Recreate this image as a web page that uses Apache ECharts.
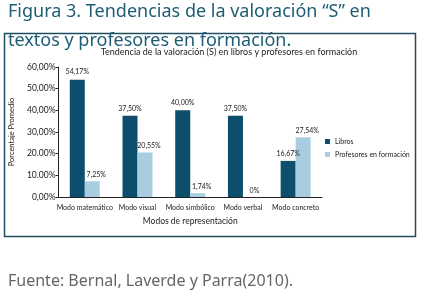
<!DOCTYPE html>
<html>
<head>
<meta charset="utf-8">
<script src="https://cdn.jsdelivr.net/npm/echarts@6/dist/echarts.min.js"></script>
<style>
  html, body { margin: 0; padding: 0; background: #fff; }
  #chart { width: 424px; height: 299px; }
</style>
</head>
<body>
<div id="chart"></div>
<script>
  // datos
  var categorias = ['Modo matemático', 'Modo visual', 'Modo simbólico', 'Modo verbal', 'Modo concreto'];
  var libros = [54.17, 37.50, 40.00, 37.50, 16.67];
  var profesores = [7.25, 20.55, 1.74, 0, 27.54];
  var etiquetasLibros = ['54,17%', '37,50%', '40,00%', '37,50%', '16,67%'];
  var etiquetasProf = ['7,25%', '20,55%', '1,74%', '0%', '27,54%'];
  var ticksY = ['0,00%', '10.00%', '20.00%', '30,00%', '40,00%', '50,00%', '60,00%'];

  var font = 'Lato';
  var fontTitulo = 'Noto Sans';
  var colorOscuro = '#0d4e6d';
  var colorClaro = '#a8cde0';

  var myChart = echarts.init(document.getElementById('chart'));

  myChart.setOption({
    animation: false,
    textStyle: { fontFamily: font },
    title: [{
      text: 'Figura 3. Tendencias de la valoración “S” en\ntextos y profesores en formación.',
      left: 3,
      top: -8,
      textStyle: {
        fontFamily: fontTitulo,
        fontSize: 18,
        fontWeight: 'normal',
        color: '#1e5d74',
        lineHeight: 29
      }
    }, {
      text: 'Tendencia de la valoración (S) en libros y profesores en formación',
      left: 224,
      textAlign: 'center',
      top: 43,
      textStyle: { fontFamily: font, fontSize: 9, fontWeight: 'normal', color: '#222' }
    }, {
      text: 'Fuente: Bernal, Laverde y Parra(2010).',
      left: 3,
      top: 268,
      textStyle: { fontFamily: fontTitulo, fontSize: 16, fontWeight: 'normal', color: '#666' }
    }],
    graphic: [{
      type: 'rect',
      z: -1,
      shape: { x: 4.5, y: 33.5, width: 411, height: 203 },
      style: { fill: 'none', stroke: '#1d4d5e', lineWidth: 1.5 }
    }],
    legend: {
      orient: 'vertical',
      left: 320,
      top: 133,
      itemWidth: 5,
      itemHeight: 5,
      itemGap: 6,
      icon: 'rect',
      textStyle: { fontFamily: font, fontSize: 7, color: '#222' },
      data: ['Libros', 'Profesores en formación']
    },
    grid: {
      left: 54,
      right: 102,
      top: 67,
      bottom: 102
    },
    xAxis: {
      type: 'category',
      data: categorias,
      name: 'Modos de representación',
      nameLocation: 'middle',
      nameGap: 20,
      nameTextStyle: { fontFamily: font, fontSize: 8.5, color: '#222' },
      axisLine: { lineStyle: { color: '#222', width: 1 } },
      axisTick: { show: false },
      axisLabel: { fontFamily: font, fontSize: 7, color: '#222', interval: 0, margin: 7 }
    },
    yAxis: {
      type: 'value',
      min: 0,
      max: 60,
      interval: 10,
      name: 'Porcentaje Promedio',
      nameLocation: 'middle',
      nameGap: 38,
      nameTextStyle: { fontFamily: font, fontSize: 7.5, color: '#222' },
      axisLine: { show: true, lineStyle: { color: '#222', width: 1 } },
      axisTick: { show: true, length: 3, lineStyle: { color: '#222' } },
      splitLine: { show: false },
      axisLabel: {
        fontFamily: font,
        fontSize: 8.5,
        color: '#222',
        margin: 3,
        formatter: function (v) { return ticksY[Math.round(v / 10)]; }
      }
    },
    series: [{
      name: 'Libros',
      type: 'bar',
      data: libros,
      barWidth: 15,
      barGap: '0%',
      itemStyle: { color: colorOscuro },
      label: {
        show: true,
        position: 'top',
        distance: 4,
        fontFamily: font,
        fontSize: 7,
        color: '#222',
        formatter: function (p) { return etiquetasLibros[p.dataIndex]; }
      }
    }, {
      name: 'Profesores en formación',
      type: 'bar',
      data: profesores,
      barWidth: 15,
      itemStyle: { color: colorClaro },
      label: {
        show: true,
        position: 'top',
        distance: 3,
        offset: [4, 0],
        fontFamily: font,
        fontSize: 7,
        color: '#222',
        formatter: function (p) { return etiquetasProf[p.dataIndex]; }
      }
    }]
  });
</script>
</body>
</html>
